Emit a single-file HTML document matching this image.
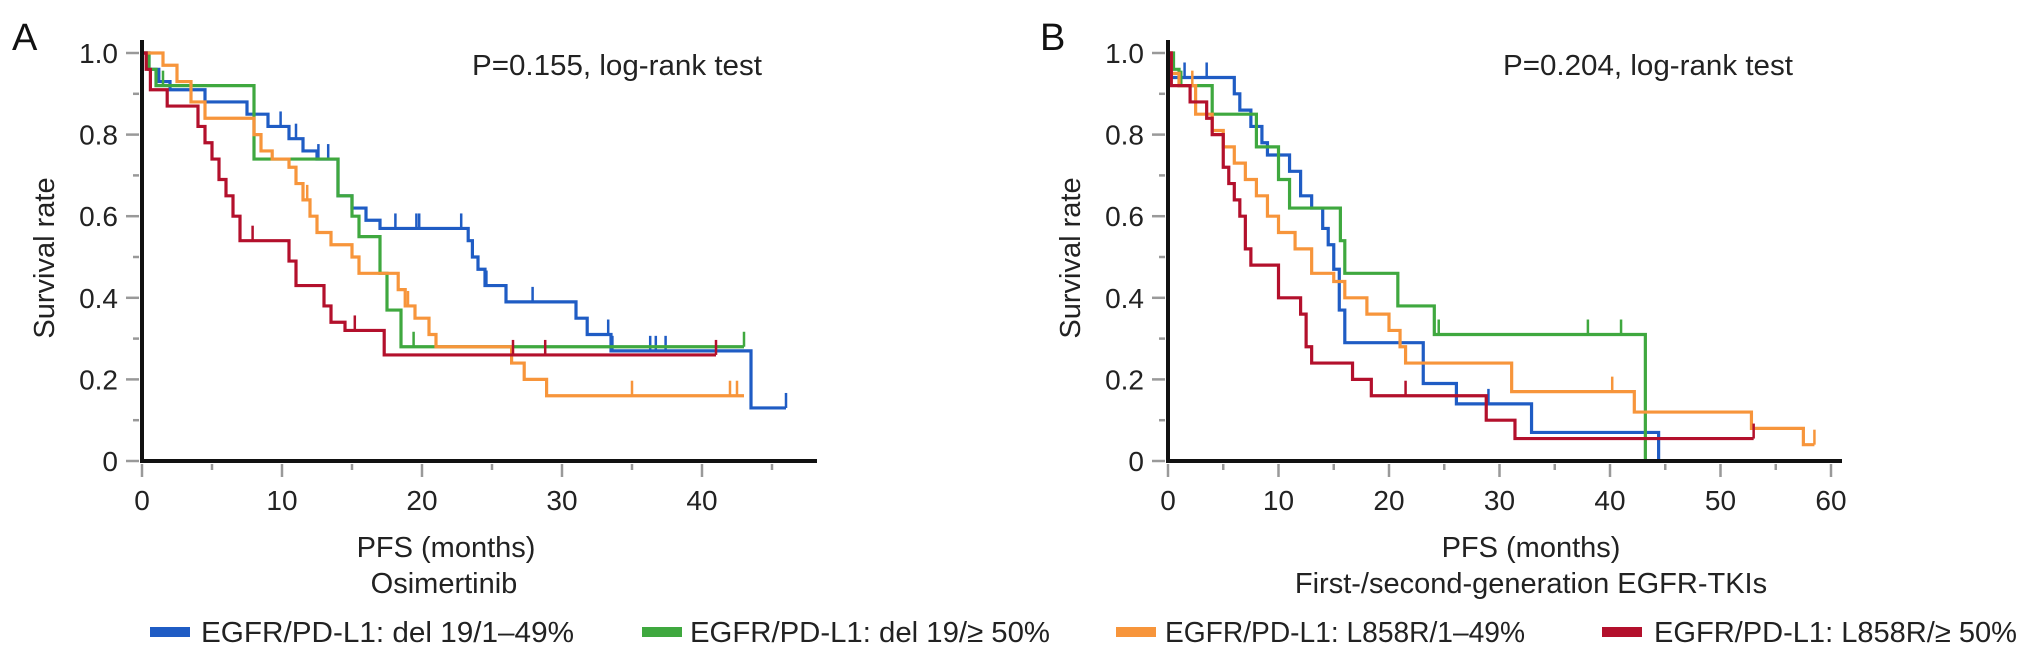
<!DOCTYPE html>
<html><head><meta charset="utf-8"><style>
html,body{margin:0;padding:0;background:#fff;}
svg{display:block;font-family:"Liberation Sans",Arial,sans-serif;}
</style></head><body>
<svg id="fig" width="2032" height="661" viewBox="0 0 2032 661"></svg>
<script>
// ---- data: panel A (Osimertinib) ----
const blueA_t=[0.5,1.2,2,4.5,7.5,9,10.5,11.5,12.5,14,15,16,17,23.3,23.6,24,24.5,26,31,31.8,33.5,43.5];
const blueA_s=[0.96,0.93,0.91,0.88,0.85,0.82,0.79,0.76,0.74,0.65,0.62,0.59,0.57,0.54,0.50,0.47,0.43,0.39,0.35,0.31,0.27,0.13];
const blueA_c=[9.9,11,12.6,13.3,18.1,19.6,19.8,22.8,24.6,27.9,33.3,33.6,36.3,36.7,37.4,46];
const blueA_end=46;
const greenA_t=[0.5,1,8,14,15,15.5,17,17.5,18.5];
const greenA_s=[0.96,0.92,0.74,0.65,0.60,0.55,0.46,0.37,0.28];
const greenA_c=[1.5,19.4,43];
const greenA_end=43;
const orangeA_t=[1.5,2.5,3.5,4.5,8,8.5,9.3,10.5,11,11.5,12,12.5,13.5,15,15.5,18.3,18.8,19.5,20.5,21,26.4,27.3,28.9];
const orangeA_s=[0.97,0.93,0.88,0.84,0.80,0.76,0.74,0.72,0.68,0.64,0.60,0.56,0.53,0.50,0.46,0.42,0.38,0.35,0.31,0.28,0.24,0.20,0.16];
const orangeA_c=[11.8,15.5,19,35,42,42.5];
const orangeA_end=43;
const redA_t=[0.3,0.6,1.8,4,4.5,5,5.5,6,6.5,7,10.5,11,13,13.5,14.5,17.3];
const redA_s=[0.96,0.91,0.87,0.82,0.78,0.74,0.69,0.65,0.60,0.54,0.49,0.43,0.38,0.34,0.32,0.26];
const redA_c=[7.9,15.2,26.5,28.8,41];
const redA_end=41;
// ---- data: panel B (First-/second-generation EGFR-TKIs) ----
const blueB_t=[0.3,6,6.5,7.5,8.5,9,11,12,13,14,14.5,15,15.5,16,23.1,26.1,32.9,44.4];
const blueB_s=[0.94,0.90,0.86,0.82,0.78,0.75,0.71,0.65,0.62,0.57,0.53,0.47,0.37,0.29,0.19,0.14,0.07,0];
const blueB_c=[1.5,3.5,11,14.5,29];
const blueB_end=44.4;
const greenB_t=[0.5,1,4,8,10,11,15.6,16,20.8,24.1,43.2];
const greenB_s=[0.96,0.92,0.85,0.77,0.69,0.62,0.54,0.46,0.38,0.31,0];
const greenB_c=[1.2,24.5,38,41];
const greenB_end=43.2;
const orangeB_t=[0.3,1,2.5,4,5,6,7,8,9,10,11.5,13,15,16,18,20,21,21.5,31.1,42.2,52.8,57.5];
const orangeB_s=[0.95,0.92,0.85,0.81,0.77,0.73,0.69,0.65,0.60,0.56,0.52,0.46,0.44,0.40,0.36,0.32,0.28,0.24,0.17,0.12,0.08,0.04];
const orangeB_c=[2.2,21.5,40.2,58.5];
const orangeB_end=58.5;
const redB_t=[0.3,2,3.5,4,5,5.5,6,6.5,7,7.5,10,12,12.5,13,16.7,18.4,28.8,31.4];
const redB_s=[0.92,0.88,0.84,0.80,0.72,0.68,0.64,0.60,0.52,0.48,0.40,0.36,0.28,0.24,0.20,0.16,0.10,0.055];
const redB_c=[3.5,21.5,53];
const redB_end=53;
const yTicks=[0,0.2,0.4,0.6,0.8,1.0];
const yTickLabels=["0","0.2","0.4","0.6","0.8","1.0"];
const xTicksA=[0,10,20,30,40];
const xTicksB=[0,10,20,30,40,50,60];
const legendLabels=["EGFR/PD-L1: del 19/1–49%","EGFR/PD-L1: del 19/≥ 50%","EGFR/PD-L1: L858R/1–49%","EGFR/PD-L1: L858R/≥ 50%"];

const COLORS={blue:"#1f5cc4",green:"#3fa83f",orange:"#f7953b",red:"#b3102c"};
const NS="http://www.w3.org/2000/svg";
const svg=document.getElementById('fig');
function mk(tag,attrs,parent,text){const e=document.createElementNS(NS,tag);for(const k in attrs)e.setAttribute(k,attrs[k]);if(text!==undefined)e.textContent=text;(parent||svg).appendChild(e);return e;}

const Y0=461,YH=408;
function ys(v){return Y0-v*YH;}

function panel(id,x0,pxPerMonth,axisEnd,xTicks,minorMax,series,ptext,ptx,xl1,xl1x,xl2,xl2x,letter,letterX){
  const xs=m=>x0+m*pxPerMonth;
  const g=mk('g',{});
  
  
  const lt=mk('text',{x:letterX,y:50,'font-size':38,fill:'#111'},g,letter);
  
  
  for(let v=0;v<=10;v++){
    const y=ys(v/10);
    const t=mk('line',{x1:x0-(v%2==0?16:9),x2:x0-3,y1:y,y2:y,stroke:'#999','stroke-width':2.5},g);
    
    
  }
  yTicks.forEach((v,i)=>{
    const t=mk('text',{x:x0-24,y:ys(v)+10,'font-size':28,'text-anchor':'end',fill:'#222'},g,yTickLabels[i]);
    
    
  });
  for(let m=0;m<=minorMax;m+=5){
    const x=xs(m);
    const t=mk('line',{x1:x,x2:x,y1:Y0+3,y2:Y0+(m%10==0?16:9),stroke:'#999','stroke-width':2.5},g);
    
    
  }
  xTicks.forEach(m=>{
    const t=mk('text',{x:xs(m),y:510,'font-size':28,'text-anchor':'middle',fill:'#222'},g,String(m));
    
    
  });
  series.forEach(s=>{
    let d=`M${xs(0)},${ys(1)}`;
    s.t.forEach((tt,i)=>{d+=` H${xs(tt)} V${ys(s.s[i])}`;});
    d+=` H${xs(s.end)}`;
    const p=mk('path',{d:d,fill:'none',stroke:COLORS[s.c],'stroke-width':3.2,'stroke-linejoin':'miter'},g);
    
    
    s.cen.forEach(ct=>{
      let sv=1;s.t.forEach((tt,i)=>{if(tt<=ct)sv=s.s[i];});
      const l=mk('line',{x1:xs(ct),x2:xs(ct),y1:ys(sv),y2:ys(sv)-15,stroke:COLORS[s.c],'stroke-width':2.5},g);
      
      
    });
  });
  const ax=mk('path',{d:`M${x0},40 V${Y0} H${axisEnd}`,fill:'none',stroke:'#111','stroke-width':4},g);
  
  
  const yl=mk('text',{x:0,y:0,'font-size':29,'text-anchor':'middle',fill:'#222',transform:`translate(${x0-88},258) rotate(-90)`},g,'Survival rate');
  
  
  const pt=mk('text',{x:ptx,y:75,'font-size':29,fill:'#222',textLength:290,lengthAdjust:'spacingAndGlyphs'},g,ptext);
  
  
  const x1=mk('text',{x:xl1x,y:557,'font-size':29,'text-anchor':'middle',fill:'#222'},g,xl1);
  
  
  const x2=mk('text',{x:xl2x,y:593,'font-size':29,'text-anchor':'middle',fill:'#222'},g,xl2);
  
  
}
panel('a',142,14,817,xTicksA,45,[
  {c:'blue',t:blueA_t,s:blueA_s,cen:blueA_c,end:blueA_end},
  {c:'green',t:greenA_t,s:greenA_s,cen:greenA_c,end:greenA_end},
  {c:'orange',t:orangeA_t,s:orangeA_s,cen:orangeA_c,end:orangeA_end},
  {c:'red',t:redA_t,s:redA_s,cen:redA_c,end:redA_end}
],'P=0.155, log-rank test',472,'PFS (months)',446,'Osimertinib',444,'A',12);
panel('b',1168,11.05,1842,xTicksB,60,[
  {c:'blue',t:blueB_t,s:blueB_s,cen:blueB_c,end:blueB_end},
  {c:'green',t:greenB_t,s:greenB_s,cen:greenB_c,end:greenB_end},
  {c:'orange',t:orangeB_t,s:orangeB_s,cen:orangeB_c,end:orangeB_end},
  {c:'red',t:redB_t,s:redB_s,cen:redB_c,end:redB_end}
],'P=0.204, log-rank test',1503,'PFS (months)',1531,'First-/second-generation EGFR-TKIs',1531,'B',1040);
const legMarkX=[150,642,1116,1602];
const legTextX=[201,690,1165,1654];
const legTextW=[373,360,360,363];
const legColors=['blue','green','orange','red'];
const lg=mk('g',{});


legendLabels.forEach((lab,i)=>{
  const r=mk('rect',{x:legMarkX[i],y:627,width:40,height:10,fill:COLORS[legColors[i]]},lg);
  
  
  const t=mk('text',{x:legTextX[i],y:642,'font-size':29,fill:'#222',textLength:legTextW[i],lengthAdjust:'spacingAndGlyphs'},lg,lab);
  
  
});
</script>
</body></html>
